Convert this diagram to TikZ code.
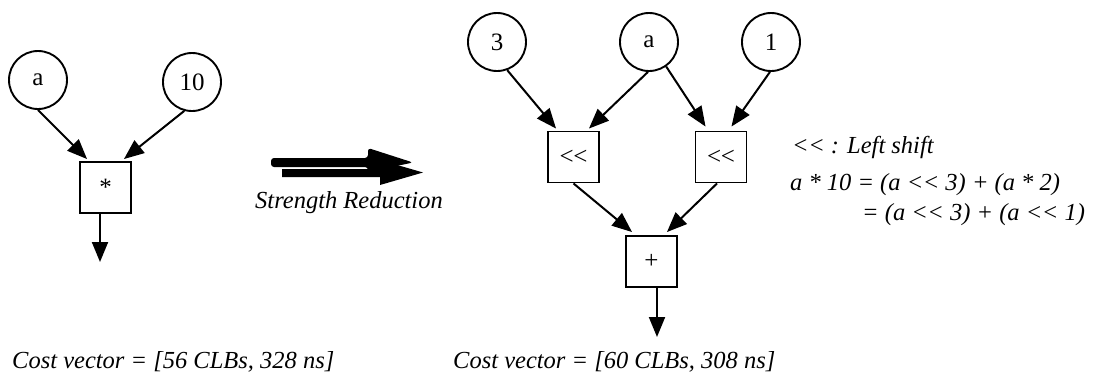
\documentclass[tikz,border=0pt]{standalone}
\usepackage{fontspec}
\setmainfont{Liberation Serif}[Ligatures=NoCommon]
\usetikzlibrary{arrows.meta}
\newcommand{\shiftop}{\textless\kern-0.5pt\textless}
\begin{document}
\begin{tikzpicture}[x=1pt,y=-1pt,
  every node/.style={font=\fontsize{25}{29}\selectfont},
  val/.style={draw,circle,line width=1.9pt,minimum size=58pt,inner sep=0pt},
  op/.style={draw,rectangle,line width=1.9pt,minimum size=51pt,inner sep=0pt},
  arr/.style={line width=2pt,-{Triangle[length=20pt,width=16pt]}},
  note/.style={font=\fontsize{24.5}{29}\selectfont\itshape,inner sep=0pt}]
\useasboundingbox (0,0) rectangle (1100,383);

% ---- original expression: a * 10
\node[val] (a1) at (38,80) {a};
\node[val] (ten) at (192,82) {10};
\node[op]  (mul) at (105.5,187.5) {\raisebox{-5pt}{*}};
\coordinate (mulout) at (100,262);
\draw[arr] (a1.south) -- ([xshift=8pt,yshift=2pt]mul.north west);
\draw[arr] (ten.-105) -- ([xshift=-8pt,yshift=2pt]mul.north east);
\draw[arr] ([xshift=-5.5pt]mul.south) -- (mulout);

% ---- transformation arrow
\fill (282,169) -- (380,169) -- (380,160) -- (423,172.5) -- (380,185) -- (380,177) -- (282,177) -- cycle;
\draw[white,line width=0.9pt,dash pattern=on 1.5pt off 1pt] (283,168) -- (372,168);
\fill[rounded corners=3pt] (271,158) -- (368,158) -- (368,148) -- (413,162.5) -- (368,172) -- (368,167) -- (271,167) -- cycle;
\node[note,anchor=west] (sr) at (255,203) {Strength Reduction};

% ---- reduced expression: (a << 3) + (a << 1)
\node[val] (three) at (497,42) {3};
\node[val] (a2)    at (649,42) {a};
\node[val] (one)   at (771,42) {1};
\node[op]  (shl)   at (573.5,157) {\shiftop};
\node[op]  (shr)   at (721,157) {\shiftop};
\node[op]  (add)   at (651.5,261.5) {+};
\coordinate (addout) at (657,337);
\draw[arr] (three.-70) -- ([xshift=9pt,yshift=2pt]shl.north west);
\draw[arr] (a2.-92) -- ([xshift=-11pt,yshift=2pt]shl.north east);
\draw[arr] (a2.-55) -- ([xshift=11pt,yshift=4pt]shr.north west);
\draw[arr] (one.-92) -- ([xshift=-16pt,yshift=4pt]shr.north east);
\draw[arr] (shl.south) -- ([xshift=7pt,yshift=3pt]add.north west);
\draw[arr] ([xshift=-4pt]shr.south) -- ([xshift=-11pt,yshift=3pt]add.north east);
\draw[arr] ([xshift=5.5pt]add.south) -- (addout);

% ---- notes
\node[note,anchor=west] (n1) at (792,147) {\shiftop{} : Left shift};
\node[note,anchor=west] (n2) at (790,185) {a * 10 = (a \shiftop{} 3) + (a * 2)};
\node[note,anchor=west] (n3) at (862,215) {= (a \shiftop{} 3) + (a \shiftop{} 1)};
\node[note,anchor=west] (c1) at (12,362) {Cost vector = [56 CLBs, 328 ns]};
\node[note,anchor=west] (c2) at (453,362) {Cost vector = [60 CLBs, 308 ns]};
\end{tikzpicture}
\end{document}
